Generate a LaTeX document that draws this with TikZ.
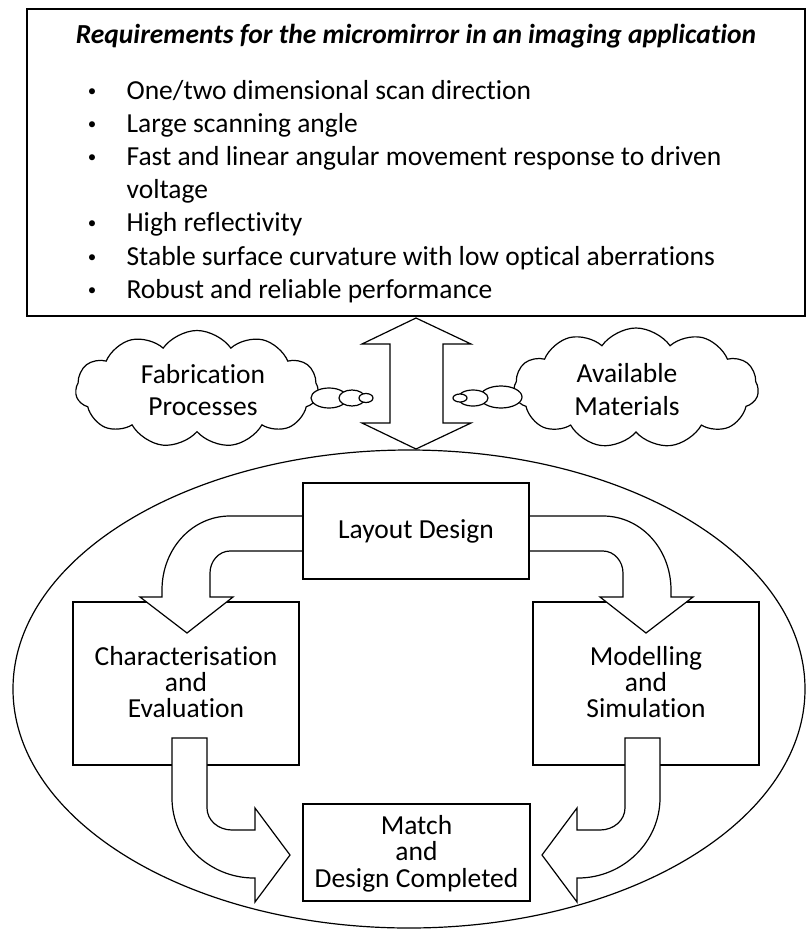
\documentclass[tikz,border=0pt]{standalone}
\usepackage{fontspec}
\setmainfont{Carlito}[Ligatures={NoCommon}]
\usetikzlibrary{shapes.symbols}
\begin{document}
\begin{tikzpicture}[x=1pt,y=-1pt,
  every path/.style={line width=1.2pt},
  txt/.style={inner sep=0pt,anchor=base,font=\fontsize{27.5}{30}\selectfont},
  ltxt/.style={inner sep=0pt,anchor=base west,font=\fontsize{27.5}{30}\selectfont},
  bul/.style={inner sep=0pt,anchor=base,font=\fontsize{17}{20}\selectfont},
  boxnode/.style={draw,line width=1.2pt,fill=white,inner sep=0pt},
  cloudnode/.style={cloud,draw,line width=1.2pt,fill=white,cloud puffs=11,cloud puff arc=110,cloud ignores aspect,inner sep=0pt},
  bubble/.style={draw,fill=white,line width=1.2pt},
  bigarrow/.style={draw,fill=white,line width=1.2pt,line join=miter}]
\useasboundingbox (0,0) rectangle (807,930);
% big ellipse
\draw (409,689) ellipse [x radius=396, y radius=239];
% requirements box
\node (req) [boxnode, minimum width=778pt, minimum height=307pt] at (416,162.5) {};
\node (title) [txt,font=\fontsize{27.5}{30}\selectfont\bfseries\itshape] at (416,43) {Requirements for the micromirror in an imaging application};
\foreach \y/\t [count=\i] in {99/{One/two dimensional scan direction},132/{Large scanning angle},165/{Fast and linear angular movement response to driven},231/{High reflectivity},265/{Stable surface curvature with low optical aberrations},298/{Robust and reliable performance}}{
  \node (b\i) [bul] at (92,\y-3) {•};
  \node (l\i) [ltxt] at (126,\y) {\t};
}
\node (l3b) [ltxt] at (126,198) {voltage};
% double arrow
\draw[bigarrow] (416,318) -- (471,344) -- (443,344) -- (443,423) -- (471,423) -- (416,449) -- (362,423) -- (390,423) -- (390,344) -- (362,344) -- cycle;
% clouds
\node (fab) [cloudnode, minimum width=243pt, minimum height=117pt] at (197,389) {};
\node (mat) [cloudnode, minimum width=245pt, minimum height=120pt] at (636,388) {};
\node [txt] at (203,383) {Fabrication};
\node [txt] at (203,415) {Processes};
\node [txt] at (627,382) {Available};
\node [txt] at (627,415) {Materials};
\draw[bubble] (329,398) ellipse [x radius=18, y radius=10];
\draw[bubble] (352,398) ellipse [x radius=13, y radius=8];
\draw[bubble] (366,398) ellipse [x radius=7, y radius=4.5];
\draw[bubble] (501,397) ellipse [x radius=21, y radius=11];
\draw[bubble] (473,398) ellipse [x radius=15, y radius=8];
\draw[bubble] (460,398) ellipse [x radius=7, y radius=4];
% side boxes
\node (char) [boxnode, minimum width=226pt, minimum height=163pt] at (186,683.5) {};
\node (mod) [boxnode, minimum width=226pt, minimum height=163pt] at (646,683.5) {};
\node (match) [boxnode, minimum width=227pt, minimum height=97pt] at (416.5,852.5) {};
% top curved arrows
\draw[bigarrow] (303,516) -- (230,516) .. controls (192,516) and (162,549) .. (162,590) -- (162,597) -- (140,597) -- (187,633) -- (233,597) -- (210,597) -- (210,573) .. controls (210,561) and (219,551) .. (230,551) -- (303,551);
\draw[bigarrow] (530,516) -- (603,516) .. controls (641,516) and (671,549) .. (671,590) -- (671,597) -- (693,597) -- (646,633) -- (600,597) -- (623,597) -- (623,573) .. controls (623,561) and (614,551) .. (603,551) -- (530,551);
\node (lay) [boxnode, minimum width=226pt, minimum height=96pt] at (416,531) {};
\node [txt] at (416,538) {Layout Design};
% bottom curved arrows
\draw[bigarrow] (172,738) -- (172,798) .. controls (172,842) and (209,878) .. (254,878) -- (255,878) -- (255,902) -- (290,855) -- (255,808) -- (255,830) -- (232,830) .. controls (218,830) and (207,820) .. (207,808) -- (207,738) -- cycle;
\draw[bigarrow] (660,738) -- (660,798) .. controls (660,842) and (623,878) .. (578,878) -- (577,878) -- (577,902) -- (542,855) -- (577,808) -- (577,830) -- (600,830) .. controls (614,830) and (625,820) .. (625,808) -- (625,738) -- cycle;
% box texts
\node [txt] at (186,665) {Characterisation};
\node [txt] at (186,691) {and};
\node [txt] at (186,717) {Evaluation};
\node [txt] at (646,665) {Modelling};
\node [txt] at (646,691) {and};
\node [txt] at (646,717) {Simulation};
\node [txt] at (416.5,834) {Match};
\node [txt] at (416.5,860) {and};
\node [txt] at (416.5,887) {Design Completed};
\end{tikzpicture}
\end{document}
